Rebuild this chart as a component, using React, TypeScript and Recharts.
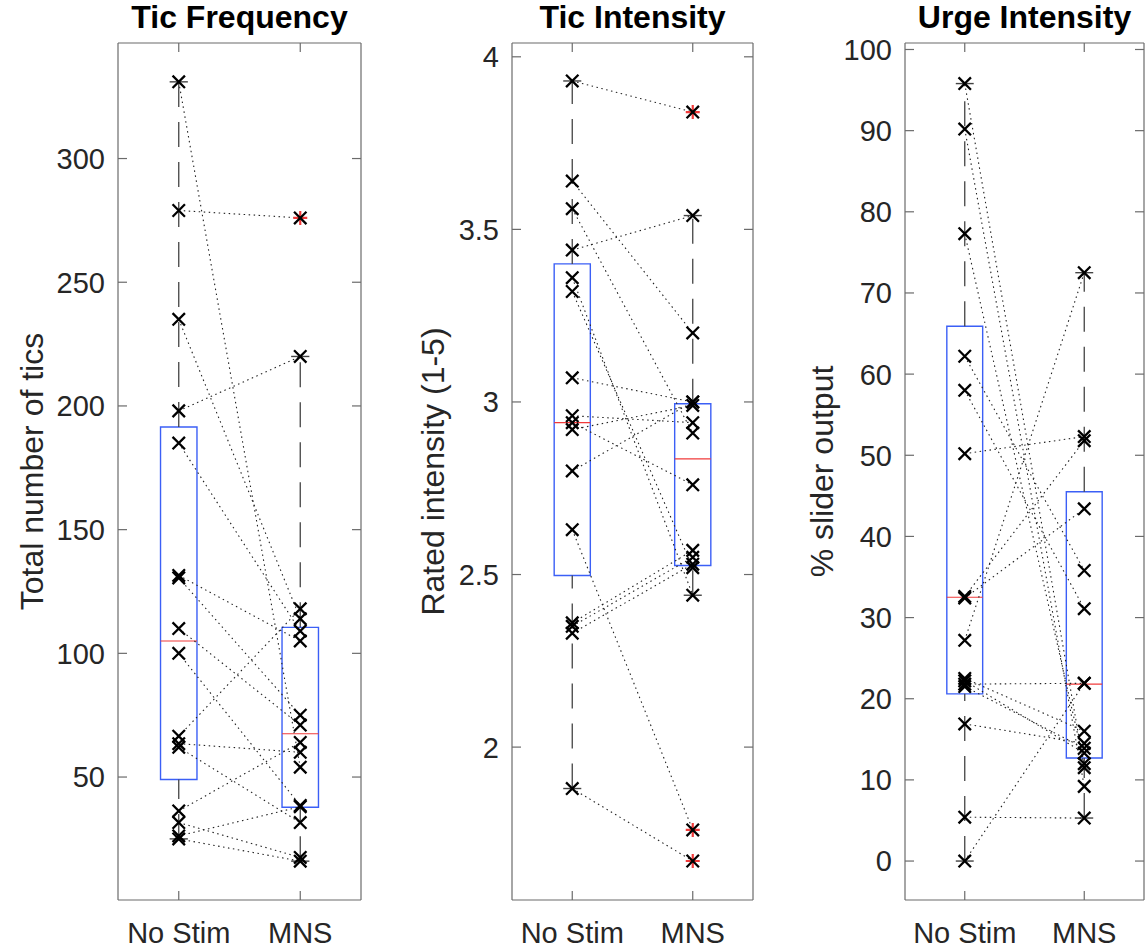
import React from 'react';
import { ComposedChart, Line, Scatter, XAxis, YAxis, ReferenceArea, ReferenceLine } from 'recharts';

const categories = ['No Stim', 'MNS'];

// Tic Frequency (same index = same subject)
const freqNoStim = [331, 279, 235, 198, 185, 131.5, 130.5, 110, 100, 66.5, 63.5, 62, 36.3, 31.6, 26.2, 25];
const freqMns = [54, 276, 114, 220, 109, 105, 75, 71, 38.5, 118, 60, 31.6, 64, 17.5, 38, 16];
const freqMnsOutliers = [276];
// [lower whisker, q1, median, q3, upper whisker]
const freqBoxNoStim = [25, 49, 105, 191.5, 331];
const freqBoxMns = [16, 37.8, 67.5, 110.5, 220];
const freqTicks = [50, 100, 150, 200, 250, 300];
const freqDomain = [0.3, 346.7];

// Tic Intensity
const intNoStim = [3.93, 3.64, 3.56, 3.44, 3.36, 3.32, 3.07, 2.96, 2.94, 2.92, 2.8, 2.63, 2.36, 2.35, 2.33, 1.88];
const intMns = [3.84, 3.2, 2.91, 3.54, 2.44, 2.52, 3.0, 2.94, 2.76, 2.99, 3.0, 1.76, 2.57, 2.55, 2.53, 1.67];
const intMnsOutliers = [3.84, 1.76, 1.67];
const intBoxNoStim = [1.88, 2.497, 2.94, 3.4, 3.93];
const intBoxMns = [2.44, 2.526, 2.835, 2.995, 3.54];
const intTicks = [2, 2.5, 3, 3.5, 4];
const intDomain = [1.557, 4.04];

// Urge Intensity
const urgeNoStim = [95.8, 90.2, 77.3, 62.2, 58.0, 50.2, 32.6, 32.4, 27.2, 22.5, 22.2, 21.8, 21.5, 16.9, 5.4, 0];
const urgeMns = [11.5, 9.2, 12.0, 35.8, 31.1, 52.3, 51.8, 43.4, 72.5, 16.0, 13.3, 21.9, 13.9, 14.5, 5.3, 21.9];
const urgeMnsOutliers: number[] = [];
const urgeBoxNoStim = [0, 20.6, 32.5, 65.9, 95.8];
const urgeBoxMns = [5.3, 12.7, 21.8, 45.5, 72.5];
const urgeTicks = [0, 10, 20, 30, 40, 50, 60, 70, 80, 90, 100];
const urgeDomain = [-4.8, 100.8];

const FONT = '"Liberation Sans", Arial, Helvetica, sans-serif';
const TEXT = '#262626';
const AXIS = '#6b6b6b';
const BLUE = '#3b5ff6';
const RED = '#f03a3a';
const TICK_LEN = 9;

function LeftTick({ x, y, payload }: any) {
  return (
    <g>
      <line x1={x} x2={x + TICK_LEN} y1={y} y2={y} stroke={AXIS} strokeWidth={1.2} />
      <text x={x - 13} y={y} dy="0.36em" textAnchor="end" fontSize={29} fill={TEXT} fontFamily={FONT}>
        {payload.value}
      </text>
    </g>
  );
}

function RightTick({ x, y }: any) {
  return <line x1={x} x2={x - TICK_LEN} y1={y} y2={y} stroke={AXIS} strokeWidth={1.2} />;
}

function TopTick({ x, y }: any) {
  return <line x1={x} x2={x} y1={y} y2={y + TICK_LEN} stroke={AXIS} strokeWidth={1.2} />;
}

function BottomTick({ x, y, payload }: any) {
  return (
    <g>
      <line x1={x} x2={x} y1={y} y2={y - TICK_LEN} stroke={AXIS} strokeWidth={1.2} />
      <text x={x} y={y + 43} textAnchor="middle" fontSize={29} fill={TEXT} fontFamily={FONT}>
        {categories[payload.value - 1]}
      </text>
    </g>
  );
}

function PanelTitle({ viewBox, text }: any) {
  const cx = viewBox.x + viewBox.width / 2;
  return (
    <text x={cx} y={viewBox.y - 14} textAnchor="middle" fontSize={32} fontWeight="bold" fill="#000" fontFamily={FONT}>
      {text}
    </text>
  );
}

function YLabel({ viewBox, text, cx }: any) {
  const cy = viewBox.y + viewBox.height / 2;
  return (
    <text
      x={cx}
      y={cy}
      dy="0.36em"
      textAnchor="middle"
      transform={`rotate(-90, ${cx}, ${cy})`}
      fontSize={32}
      fill={TEXT}
      fontFamily={FONT}
    >
      {text}
    </text>
  );
}

function XMark({ cx, cy }: any) {
  const r = 6.2;
  return (
    <path
      d={`M${cx - r},${cy - r}L${cx + r},${cy + r}M${cx - r},${cy + r}L${cx + r},${cy - r}`}
      stroke="#000"
      strokeWidth={2.3}
      fill="none"
    />
  );
}

function PlusMark({ cx, cy }: any) {
  const r = 7;
  return (
    <path d={`M${cx - r},${cy}L${cx + r},${cy}M${cx},${cy - r}L${cx},${cy + r}`} stroke={RED} strokeWidth={2.2} fill="none" />
  );
}

function BoxParts(pos: number, stats: number[]) {
  const [lo, q1, med, q3, hi] = stats;
  const hw = 0.15;
  const cw = 0.075;
  return [
    <ReferenceLine key={`wu${pos}`} segment={[{ x: pos, y: q3 }, { x: pos, y: hi }]} stroke="#444" strokeWidth={1.3} strokeDasharray="25 15" ifOverflow="visible" />,
    <ReferenceLine key={`wl${pos}`} segment={[{ x: pos, y: lo }, { x: pos, y: q1 }]} stroke="#444" strokeWidth={1.3} strokeDasharray="25 15" ifOverflow="visible" />,
    <ReferenceLine key={`cu${pos}`} segment={[{ x: pos - cw, y: hi }, { x: pos + cw, y: hi }]} stroke="#444" strokeWidth={1.4} ifOverflow="visible" />,
    <ReferenceLine key={`cl${pos}`} segment={[{ x: pos - cw, y: lo }, { x: pos + cw, y: lo }]} stroke="#444" strokeWidth={1.4} ifOverflow="visible" />,
    <ReferenceArea key={`b${pos}`} x1={pos - hw} x2={pos + hw} y1={q1} y2={q3} fill="none" fillOpacity={0} stroke={BLUE} strokeWidth={1.4} ifOverflow="visible" />,
    <ReferenceLine key={`m${pos}`} segment={[{ x: pos - hw, y: med }, { x: pos + hw, y: med }]} stroke={RED} strokeWidth={1.1} ifOverflow="visible" />,
  ];
}

type PanelProps = {
  left: number;
  width: number;
  yAxisWidth: number;
  marginRight: number;
  title: string;
  yLabel: string;
  yLabelX: number;
  noStim: number[];
  mns: number[];
  outliers: number[];
  boxNoStim: number[];
  boxMns: number[];
  ticks: number[];
  domain: number[];
};

function Panel(p: PanelProps) {
  const pairs = p.noStim.map((v, i) => [
    { x: 1, y: v },
    { x: 2, y: p.mns[i] },
  ]);
  const pts = [...p.noStim.map((y) => ({ x: 1, y })), ...p.mns.map((y) => ({ x: 2, y }))];
  const outPts = p.outliers.map((y) => ({ x: 2, y }));
  return (
    <div style={{ position: 'absolute', left: p.left, top: 0 }}>
      <ComposedChart width={p.width} height={950} margin={{ top: 42, right: p.marginRight - 1, bottom: 0, left: 0 }}>
        <XAxis
          xAxisId={0}
          dataKey="x"
          type="number"
          domain={[0.5, 2.5]}
          ticks={[1, 2]}
          allowDataOverflow
          height={50}
          tickSize={0}
          tickMargin={0}
          tickLine={false}
          axisLine={{ stroke: AXIS, strokeWidth: 1.2 }}
          tick={<BottomTick />}
          interval={0}
        />
        <XAxis
          xAxisId="top"
          orientation="top"
          dataKey="x"
          type="number"
          domain={[0.5, 2.5]}
          ticks={[1, 2]}
          allowDataOverflow
          height={1}
          tickSize={0}
          tickMargin={0}
          tickLine={false}
          axisLine={{ stroke: AXIS, strokeWidth: 1.2 }}
          tick={<TopTick />}
          interval={0}
          label={<PanelTitle text={p.title} />}
        />
        <YAxis
          yAxisId={0}
          dataKey="y"
          type="number"
          domain={p.domain}
          ticks={p.ticks}
          allowDataOverflow
          width={p.yAxisWidth}
          tickSize={0}
          tickMargin={0}
          tickLine={false}
          axisLine={{ stroke: AXIS, strokeWidth: 1.2 }}
          tick={<LeftTick />}
          interval={0}
          label={<YLabel text={p.yLabel} cx={p.yLabelX} />}
        />
        <YAxis
          yAxisId="right"
          orientation="right"
          dataKey="y"
          type="number"
          domain={p.domain}
          ticks={p.ticks}
          allowDataOverflow
          width={1}
          tickSize={0}
          tickMargin={0}
          tickLine={false}
          axisLine={{ stroke: AXIS, strokeWidth: 1.2 }}
          tick={<RightTick />}
          interval={0}
        />
        {BoxParts(1, p.boxNoStim)}
        {BoxParts(2, p.boxMns)}
        {pairs.map((d, i) => (
          <Line
            key={`pair${i}`}
            data={d}
            dataKey="y"
            stroke="#222"
            strokeWidth={1.1}
            strokeDasharray="1.5 3.5"
            dot={false}
            activeDot={false}
            legendType="none"
            isAnimationActive={false}
          />
        ))}
        <Scatter data={outPts} shape={<PlusMark />} isAnimationActive={false} />
        <Scatter data={pts} shape={<XMark />} isAnimationActive={false} />
        <Scatter xAxisId="top" yAxisId="right" data={pts} shape={() => <g />} isAnimationActive={false} />
      </ComposedChart>
    </div>
  );
}

export default function App() {
  return (
    <div style={{ position: 'absolute', left: 0, top: 0, width: 1145, height: 950, background: '#fff' }}>
      <Panel
        left={0}
        width={370}
        yAxisWidth={118}
        marginRight={9}
        title="Tic Frequency"
        yLabel="Total number of tics"
        yLabelX={31}
        noStim={freqNoStim}
        mns={freqMns}
        outliers={freqMnsOutliers}
        boxNoStim={freqBoxNoStim}
        boxMns={freqBoxMns}
        ticks={freqTicks}
        domain={freqDomain}
      />
      <Panel
        left={400}
        width={360}
        yAxisWidth={112}
        marginRight={7}
        title="Tic Intensity"
        yLabel="Rated intensity (1-5)"
        yLabelX={32}
        noStim={intNoStim}
        mns={intMns}
        outliers={intMnsOutliers}
        boxNoStim={intBoxNoStim}
        boxMns={intBoxMns}
        ticks={intTicks}
        domain={intDomain}
      />
      <Panel
        left={790}
        width={355}
        yAxisWidth={115}
        marginRight={1}
        title="Urge Intensity"
        yLabel="% slider output"
        yLabelX={31}
        noStim={urgeNoStim}
        mns={urgeMns}
        outliers={urgeMnsOutliers}
        boxNoStim={urgeBoxNoStim}
        boxMns={urgeBoxMns}
        ticks={urgeTicks}
        domain={urgeDomain}
      />
    </div>
  );
}
